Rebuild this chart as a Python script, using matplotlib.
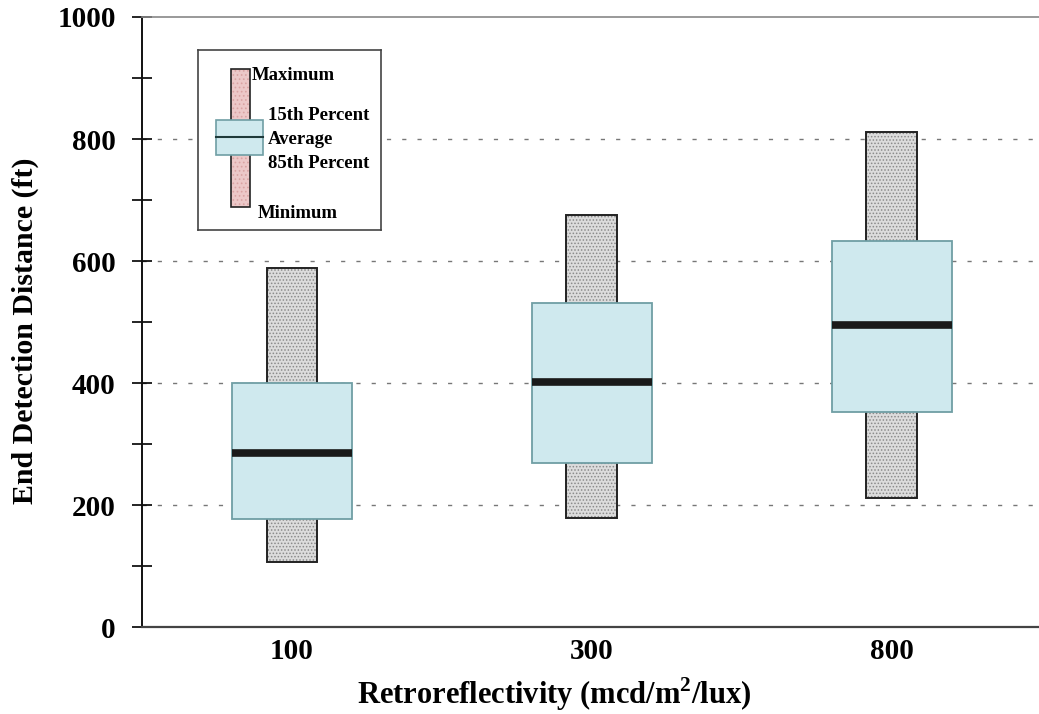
import matplotlib.pyplot as plt
import matplotlib.patches as mpatches
import numpy as np

plt.rcParams['font.family'] = ['Liberation Serif', 'DejaVu Serif']
plt.rcParams['font.weight'] = 'bold'
plt.rcParams['mathtext.fontset'] = 'custom'
plt.rcParams['mathtext.rm'] = 'Liberation Serif:bold'
plt.rcParams['mathtext.bf'] = 'Liberation Serif:bold'
plt.rcParams['hatch.linewidth'] = 0.7

# retroreflectivity levels and detection distance stats (ft)
levels = ['100', '300', '800']
minimum = [106, 179, 211]
p15 = [177, 269, 352]
average = [285, 402, 495]
p85 = [400, 531, 633]
maximum = [589, 675, 811]

box_w = 0.40
bar_w = 0.17
box_face = '#cfe9ee'
box_edge = '#6f9ea4'

fig = plt.figure(figsize=(10.39, 7.14), dpi=100)
ax = fig.add_axes([0.1367, 0.1218, 0.866, 0.8544])

x = np.arange(len(levels))

# min..max range bars behind the percentile boxes
for xi, lo, hi in zip(x, minimum, maximum):
    ax.add_patch(mpatches.Rectangle((xi - bar_w / 2, lo), bar_w, hi - lo,
                                    facecolor='#dcdcdc', edgecolor='#8a8a8a',
                                    hatch='.....', lw=0, zorder=2))
    ax.add_patch(mpatches.Rectangle((xi - bar_w / 2, lo), bar_w, hi - lo,
                                    facecolor='none', edgecolor='#222222',
                                    lw=1.4, zorder=2.1))

for xi, lo, hi, avg in zip(x, p15, p85, average):
    ax.add_patch(mpatches.Rectangle((xi - box_w / 2, lo), box_w, hi - lo,
                                    facecolor=box_face, edgecolor=box_edge,
                                    lw=1.3, zorder=3))
    ax.plot([xi - box_w / 2, xi + box_w / 2], [avg, avg], color='#1a1a1a',
            lw=5.5, solid_capstyle='butt', zorder=4)

ax.set_xlim(-0.5, 2.5)
ax.set_ylim(0, 1000)
ax.set_xticks(x)
ax.set_xticklabels(levels, fontsize=21, fontweight='bold')
ax.tick_params(axis='x', length=0, pad=8)
ax.set_yticks(np.arange(0, 1001, 200))
ax.set_yticks(np.arange(100, 1000, 200), minor=True)
ax.tick_params(axis='y', which='both', direction='inout', length=14,
               width=1.2, labelsize=21, pad=12)
for lab in ax.get_yticklabels():
    lab.set_fontweight('bold')

for yv in [200, 400, 600, 800]:
    ax.axhline(yv, color='#777777', lw=1.0, ls=(0, (3, 8)), zorder=1)

ax.spines['right'].set_visible(False)
ax.spines['left'].set_linewidth(1.4)
ax.spines['left'].set_color('#111111')
ax.spines['bottom'].set_linewidth(1.6)
ax.spines['bottom'].set_color('#444444')
ax.spines['top'].set_linewidth(1.2)
ax.spines['top'].set_color('#888888')

ax.set_ylabel('End Detection Distance (ft)', fontsize=21.5, fontweight='bold')
ax.yaxis.set_label_coords(-0.114, 0.485)
ax.set_xlabel('Retroreflectivity (mcd/m$^\\mathbf{2}$/lux)', fontsize=22,
              fontweight='bold')
ax.xaxis.set_label_coords(0.458, -0.08)

# key explaining the box elements
key = fig.add_axes([198 / 1039, 1 - 230 / 714, 183 / 1039, 180 / 714])
key.set_xlim(0, 183)
key.set_ylim(180, 0)
key.set_xticks([])
key.set_yticks([])
for s in key.spines.values():
    s.set_color('#444444')
    s.set_linewidth(1.2)
key.add_patch(mpatches.Rectangle((33, 19), 19, 138, facecolor='#ecc8c8',
                                 edgecolor='#d9a3a3', hatch='....', lw=0))
key.add_patch(mpatches.Rectangle((33, 19), 19, 138, facecolor='none',
                                 edgecolor='#222222', lw=1.2))
key.add_patch(mpatches.Rectangle((18, 70), 47, 35, facecolor=box_face,
                                 edgecolor=box_edge, lw=1.2))
key.plot([18, 65], [87, 87], color='#1f3a3a', lw=1.5)
kw = dict(fontsize=13.5, fontweight='bold', va='center', ha='left')
key.text(54, 26, 'Maximum', **kw)
key.text(70, 66, '15th Percent', **kw)
key.text(70, 89, 'Average', **kw)
key.text(70, 114, '85th Percent', **kw)
key.text(60, 164, 'Minimum', **kw)

fig.savefig('out.png', dpi=100)
